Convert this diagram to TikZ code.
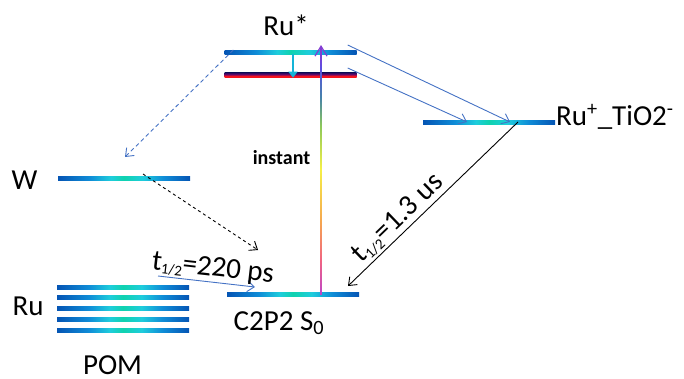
\documentclass[tikz,border=0pt]{standalone}
\usepackage{fontspec}
\setmainfont{Carlito}
\usepackage{xcolor}
\usepackage{tikz}
\usetikzlibrary{arrows.meta}
\definecolor{lvdark}{RGB}{5,85,180}
\definecolor{lvblue}{RGB}{15,140,215}
\definecolor{lvcyan}{RGB}{30,205,220}
\definecolor{lvteal}{RGB}{15,210,175}
\definecolor{arrblue}{RGB}{68,114,196}
\definecolor{rlnavy}{RGB}{30,10,90}
\definecolor{rlpurple}{RGB}{110,10,110}
\definecolor{rlred}{RGB}{245,20,30}
\definecolor{rbmag}{RGB}{190,70,200}
\definecolor{rbpink}{RGB}{240,100,130}
\definecolor{rborange}{RGB}{245,165,80}
\definecolor{rbyellow}{RGB}{245,240,70}
\definecolor{rbgreen}{RGB}{140,200,90}
\definecolor{rbteal}{RGB}{70,130,170}
\definecolor{rbblue}{RGB}{90,80,225}
\definecolor{rbviolet}{RGB}{130,60,210}
\definecolor{dropcyan}{RGB}{20,180,215}
\pgfdeclarehorizontalshading{levelshade}{100bp}{color(0bp)=(lvdark); color(25bp)=(lvdark); color(37bp)=(lvblue); color(45bp)=(lvcyan); color(50bp)=(lvteal); color(57bp)=(lvcyan); color(65bp)=(lvblue); color(75bp)=(lvdark); color(100bp)=(lvdark)}
\pgfdeclareverticalshading{redshade}{100bp}{color(0bp)=(rlred); color(25bp)=(rlred); color(42bp)=(rlred); color(55bp)=(rlpurple); color(75bp)=(rlnavy); color(100bp)=(rlnavy)}
\pgfdeclareverticalshading{rainbowup}{100bp}{color(0bp)=(rbmag); color(25bp)=(rbmag); color(32bp)=(rbpink); color(40bp)=(rborange); color(51bp)=(rbyellow); color(60bp)=(rbgreen); color(66bp)=(rbteal); color(72bp)=(rbblue); color(75bp)=(rbviolet); color(100bp)=(rbviolet)}
\newcommand{\biglbl}{\fontsize{29}{32}\selectfont}
\newcommand{\thalf}{t\raisebox{-0.12em}{\fontsize{15}{15}\selectfont 1/2}}

\begin{document}
\begin{tikzpicture}[x=1pt, y=-1pt,
  level/.style={shade, shading=levelshade, minimum width=132pt, minimum height=4pt, inner sep=0pt},
  redlevel/.style={shade, shading=redshade, minimum width=132pt, minimum height=5pt, inner sep=0pt},
  lbl/.style={font=\biglbl, inner sep=0pt, text=black},
  barb/.style={-{Straight Barb[length=7pt,width=11pt]}, line width=0.9pt},
  arr/.style={barb, arrblue}
]
\useasboundingbox (0,0) rectangle (684,378);
\node[level] (rustar) at (290.5,52) {};
\node[redlevel] (rured) at (290.5,75) {};
\node[level] (ruti) at (489,122) {};
\node[level] (w) at (124,178) {};
\node[level] (s0) at (293,294) {};
\foreach \y [count=\i] in {287,297,308,319,330}
  \node[level] (pom\i) at (123,\y) {};
\node[lbl, anchor=base] (rustarlbl) at (286,35) {Ru*};
\node[lbl, anchor=base west] (rutilbl) at (556,125) {Ru\textsuperscript{+}\_TiO2\textsuperscript{-}};
\node[lbl, anchor=base] (wlbl) at (24.5,189) {W};
\node[lbl, anchor=base] (rulbl) at (28,315) {Ru};
\node[lbl, anchor=base] (s0lbl) at (279,330) {C2P2 S\textsubscript{0}};
\node[lbl, anchor=base] (pomlbl) at (112.5,374) {POM};
\node[font=\fontsize{20}{22}\selectfont\bfseries, anchor=base] (instant) at (281.5,164) {instant};
\coordinate (exc) at (321,45);
\coordinate (exbot) at (exc |- s0.center);
\draw[rbviolet, line width=1.2pt, -{Straight Barb[length=10pt,width=12pt]}] (exbot) -- (exc);
\shade[shading=rainbowup] ([xshift=-0.8pt]exbot) rectangle ([xshift=0.8pt,yshift=-9pt]exc);
\draw[dropcyan, line width=2.5pt, -{Triangle[length=6pt,width=9pt]}] ([xshift=2.5pt]rustar.south) -- ([xshift=2.5pt]rured.south);
\draw[arr, dash pattern=on 4pt off 3pt] ([shift={(9pt,2pt)}]rustar.west) -- ([shift={(1pt,21pt)}]w.center);
\draw[arr] ([shift={(-9pt,7pt)}]rustar.east) -- ([xshift=21pt]ruti.center);
\draw[arr] ([shift={(-9pt,7pt)}]rured.east) -- ([xshift=-22pt]ruti.center);
\draw[barb] ([xshift=29pt]ruti.center) -- ([shift={(55pt,8pt)}]s0.center)
  node[lbl, sloped, above, pos=0.65, inner sep=2pt] {\thalf=1.3 us};
\draw[barb, dashed] ([shift={(19pt,4pt)}]w.center) -- ([shift={(-35pt,44pt)}]s0.center);
\draw[arr] ([shift={(35pt,11pt)}]pom1.center) -- ([shift={(-38pt,7pt)}]s0.center)
  node[lbl, sloped, above, pos=0.55, inner sep=1pt] {\thalf=220 ps};
\end{tikzpicture}
\end{document}
